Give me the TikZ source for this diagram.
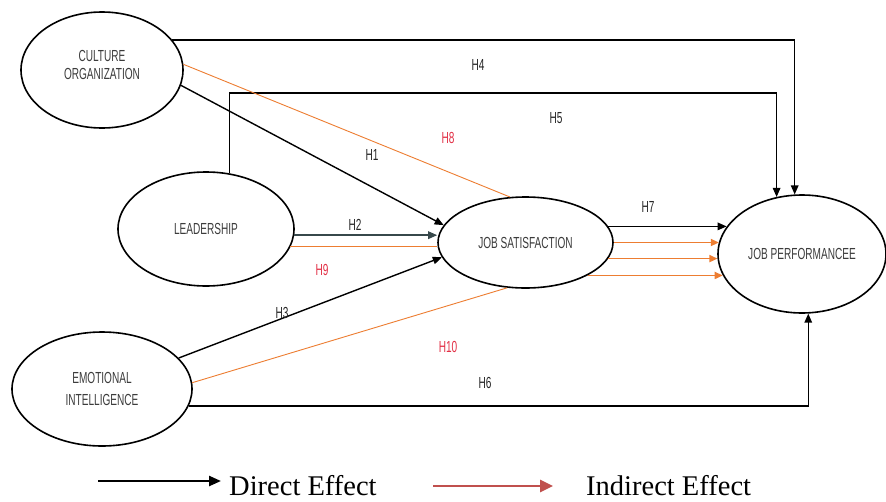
\documentclass[tikz,border=0pt]{standalone}
\usepackage{fontspec}
\setmainfont{Liberation Serif}
\newfontfamily\condsans[FakeStretch=0.63]{Liberation Sans}
\usetikzlibrary{arrows.meta,shapes.geometric}

\definecolor{orng}{RGB}{237,125,49}
\definecolor{hred}{RGB}{226,48,70}
\definecolor{legred}{RGB}{192,80,77}
\definecolor{slate}{RGB}{55,72,75}
\definecolor{txtgray}{RGB}{60,60,60}

\begin{document}
\begin{tikzpicture}[x=1pt,y=-1pt,
  construct/.style={draw=black,line width=1.6pt,ellipse,inner sep=0pt,align=center,
    font=\condsans\fontsize{16}{18}\selectfont,text=txtgray},
  direct/.style={draw=black,line width=1.4pt,-{Triangle[length=9pt,width=7.5pt]}},
  indirect/.style={draw=orng,line width=0.9pt},
  indarrow/.style={draw=orng,line width=1.7pt,-{Triangle[length=8pt,width=7pt]}},
  hlabel/.style={font=\condsans\fontsize{16}{18}\selectfont,text=black!85,inner sep=1pt},
  hredlabel/.style={hlabel,text=hred},
  legtext/.style={font=\fontsize{28.5}{30}\selectfont,anchor=base west,inner sep=0pt}
]
% canvas
\useasboundingbox[fill=white] (0,0) rectangle (886,501);

% constructs
\node[construct,minimum width=162pt,minimum height=116pt,text depth=10pt] (cul) at (102,70) {CULTURE\\ORGANIZATION};
\node[construct,minimum width=176pt,minimum height=114pt] (lead) at (206,229) {LEADERSHIP};
\node[construct,minimum width=180pt,minimum height=114pt] (ei) at (102,389) {EMOTIONAL\\[4pt]INTELLIGENCE};
\node[construct,minimum width=175pt,minimum height=91pt] (js) at (525.5,242.5) {JOB SATISFACTION};
\node[construct,minimum width=168pt,minimum height=118pt] (jp) at (802,254) {JOB PERFORMANCEE};

% direct paths
\coordinate (h5level) at (0,93);
\draw[direct] (cul.23) -| (jp.97);
\draw[direct] (lead.67) -- (lead.67 |- h5level) -| (jp.114);
\draw[direct] (ei.-11) -| (jp.-84);
\draw[direct] (cul.-11) -- (js.168);
\draw[direct,draw=slate] (lead.-4) -- (lead.-4 -| js.west);
\draw[direct] (ei.22) -- (js.190);
\draw[direct] (js.11) -- (js.11 -| jp.160);

% mediated paths
\draw[indirect] (cul.4) -- (js.109);
\draw[indirect] (lead.-12) -- (lead.-12 -| js.west);
\draw[indirect] (ei.4) -- (js.248);
\draw[indarrow] (js.0) -- (js.0 -| jp.172);
\draw[indarrow] (js.-11) -- (js.-11 -| jp.183);
\draw[indarrow] (js.-28) -- (js.-28 -| jp.195);

% hypothesis labels
\node[hlabel] (h4) at (478,65) {H4};
\node[hlabel] (h5) at (556,118) {H5};
\node[hredlabel] (h8) at (448,138) {H8};
\node[hlabel] (h1) at (372,155) {H1};
\node[hlabel] (h2) at (355,225) {H2};
\node[hredlabel] (h9) at (322,270) {H9};
\node[hlabel] (h3) at (282,313) {H3};
\node[hredlabel] (h10) at (448,347) {H10};
\node[hlabel] (h6) at (485,383) {H6};
\node[hlabel] (h7) at (648,207) {H7};

% legend
\coordinate (dstart) at (98,481);
\coordinate (dend) at (221,481);
\draw[line width=2.4pt,-{Triangle[length=12pt,width=10pt]}] (dstart) -- (dend);
\node[legtext] (dtext) at (229,495) {Direct Effect};
\coordinate (istart) at (433,486);
\coordinate (iend) at (553,486);
\draw[draw=legred,line width=2.6pt,-{Triangle[length=13pt,width=12pt]}] (istart) -- (iend);
\node[legtext] (itext) at (586,495) {Indirect Effect};
\end{tikzpicture}
\end{document}
